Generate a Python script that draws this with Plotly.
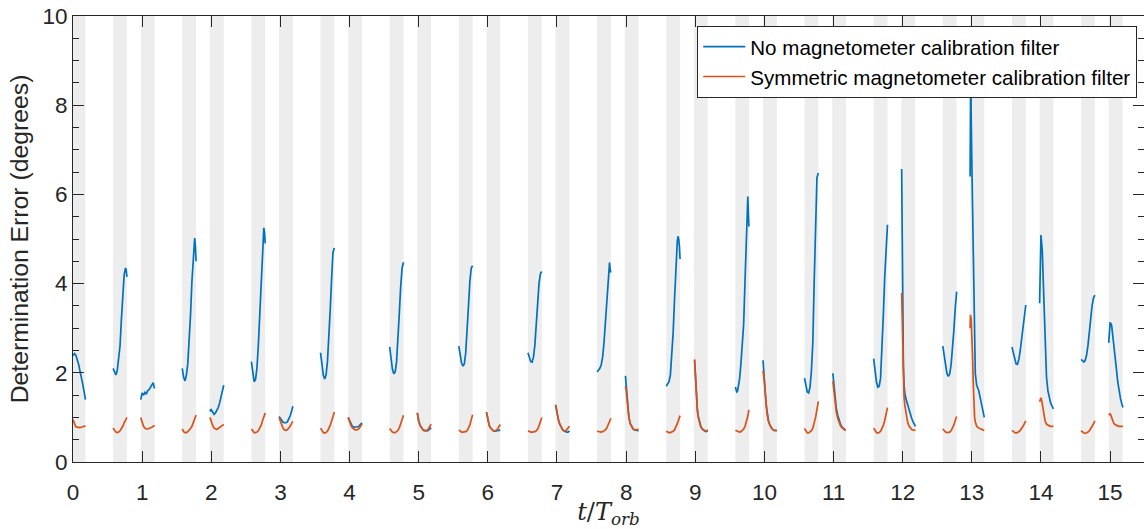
import plotly.graph_objects as go

# ---------------- eclipse (shaded) windows ----------------
shade_start = [-0.02, 0.58, 0.98, 1.58, 1.98, 2.58, 2.98, 3.58, 3.98, 4.58, 4.98, 5.58,
               5.98, 6.58, 6.98, 7.58, 7.98, 8.58, 8.98, 9.58, 9.98, 10.58, 10.98, 11.58,
               11.98, 12.58, 12.98, 13.58, 13.98, 14.58, 14.98]
shade_width = 0.20

# ---------------- data segments (t/T_orb, error in degrees) ----------------
# nocal_* : No magnetometer calibration filter ; sym_* : Symmetric magnetometer calibration filter
t_a0 = [0.00, 0.02, 0.04, 0.06, 0.08, 0.10, 0.12, 0.14, 0.16, 0.18]
nocal_a0 = [2.38, 2.43, 2.40, 2.32, 2.20, 2.05, 1.92, 1.75, 1.58, 1.40]
sym_a0 = [0.95, 0.86, 0.79, 0.78, 0.77, 0.77, 0.78, 0.79, 0.80, 0.81]

t_b0 = [0.58, 0.60, 0.62, 0.64, 0.66, 0.68, 0.70, 0.72, 0.74, 0.76, 0.77, 0.78]
nocal_b0 = [2.10, 2.00, 1.95, 2.05, 2.30, 2.60, 3.20, 3.85, 4.20, 4.35, 4.30, 4.15]
sym_b0 = [0.76, 0.70, 0.67, 0.66, 0.67, 0.70, 0.74, 0.80, 0.88, 0.96, 0.98, 1.00]

t_a1 = [0.98, 0.99, 1.00, 1.02, 1.04, 1.06, 1.08, 1.10, 1.12, 1.14, 1.16, 1.17, 1.18]
nocal_a1 = [1.40, 1.48, 1.55, 1.50, 1.56, 1.52, 1.60, 1.62, 1.68, 1.75, 1.78, 1.70, 1.65]
sym_a1 = [1.00, 0.95, 0.88, 0.80, 0.76, 0.74, 0.74, 0.75, 0.76, 0.78, 0.80, 0.81, 0.82]

t_b1 = [1.58, 1.60, 1.62, 1.64, 1.66, 1.68, 1.70, 1.72, 1.74, 1.75, 1.76, 1.77, 1.78]
nocal_b1 = [2.10, 1.90, 1.82, 1.95, 2.20, 2.65, 3.30, 4.05, 4.70, 4.95, 5.02, 4.85, 4.50]
sym_b1 = [0.74, 0.68, 0.66, 0.66, 0.68, 0.71, 0.75, 0.80, 0.88, 0.92, 0.97, 1.01, 1.05]

t_a2 = [1.98, 1.99, 2.00, 2.02, 2.04, 2.06, 2.08, 2.10, 2.12, 2.14, 2.16, 2.18]
nocal_a2 = [1.18, 1.15, 1.17, 1.12, 1.07, 1.10, 1.15, 1.22, 1.32, 1.45, 1.58, 1.72]
sym_a2 = [1.00, 0.95, 0.90, 0.82, 0.76, 0.74, 0.73, 0.75, 0.78, 0.80, 0.82, 0.84]

t_b2 = [2.58, 2.60, 2.62, 2.64, 2.66, 2.68, 2.70, 2.72, 2.74, 2.75, 2.76, 2.77, 2.78]
nocal_b2 = [2.25, 1.95, 1.80, 1.85, 2.10, 2.60, 3.25, 3.95, 4.65, 5.00, 5.25, 5.15, 4.90]
sym_b2 = [0.74, 0.69, 0.66, 0.66, 0.67, 0.70, 0.75, 0.82, 0.92, 0.97, 1.03, 1.07, 1.10]

t_a3 = [2.98, 3.00, 3.02, 3.04, 3.06, 3.08, 3.10, 3.12, 3.14, 3.16, 3.18]
nocal_a3 = [1.02, 0.97, 0.92, 0.89, 0.88, 0.88, 0.90, 0.95, 1.03, 1.13, 1.25]
sym_a3 = [1.00, 0.90, 0.80, 0.75, 0.72, 0.71, 0.72, 0.75, 0.80, 0.86, 0.91]

t_b3 = [3.58, 3.60, 3.62, 3.64, 3.66, 3.68, 3.70, 3.72, 3.74, 3.76, 3.78]
nocal_b3 = [2.45, 2.15, 1.95, 1.86, 1.95, 2.25, 2.75, 3.40, 4.10, 4.70, 4.80]
sym_b3 = [0.76, 0.70, 0.66, 0.65, 0.66, 0.69, 0.74, 0.82, 0.92, 1.03, 1.12]

t_a4 = [3.98, 4.00, 4.02, 4.04, 4.06, 4.08, 4.10, 4.12, 4.14, 4.16, 4.18]
nocal_a4 = [1.00, 0.92, 0.85, 0.80, 0.78, 0.78, 0.78, 0.79, 0.81, 0.84, 0.88]
sym_a4 = [1.00, 0.90, 0.82, 0.77, 0.74, 0.72, 0.72, 0.73, 0.76, 0.80, 0.85]

t_b4 = [4.58, 4.60, 4.62, 4.64, 4.66, 4.68, 4.70, 4.72, 4.74, 4.76, 4.78]
nocal_b4 = [2.58, 2.30, 2.08, 1.98, 2.02, 2.25, 2.70, 3.35, 3.95, 4.35, 4.48]
sym_b4 = [0.75, 0.70, 0.67, 0.66, 0.66, 0.68, 0.71, 0.77, 0.85, 0.95, 1.05]

t_a5 = [4.98, 4.99, 5.00, 5.02, 5.04, 5.06, 5.08, 5.10, 5.12, 5.14, 5.16, 5.18]
nocal_a5 = [1.10, 1.00, 0.92, 0.82, 0.76, 0.73, 0.71, 0.70, 0.70, 0.71, 0.73, 0.77]
sym_a5 = [1.10, 1.00, 0.92, 0.82, 0.76, 0.72, 0.70, 0.70, 0.71, 0.74, 0.79, 0.85]

t_b5 = [5.58, 5.60, 5.62, 5.64, 5.66, 5.68, 5.70, 5.72, 5.74, 5.76, 5.78]
nocal_b5 = [2.60, 2.40, 2.22, 2.15, 2.20, 2.45, 2.90, 3.50, 4.05, 4.35, 4.40]
sym_b5 = [0.72, 0.69, 0.67, 0.67, 0.67, 0.68, 0.70, 0.75, 0.83, 0.95, 1.06]

t_a6 = [5.98, 5.99, 6.00, 6.02, 6.04, 6.06, 6.08, 6.10, 6.12, 6.14, 6.16, 6.18]
nocal_a6 = [1.12, 1.02, 0.93, 0.82, 0.76, 0.72, 0.70, 0.69, 0.69, 0.70, 0.71, 0.72]
sym_a6 = [1.12, 1.02, 0.93, 0.82, 0.76, 0.72, 0.70, 0.70, 0.71, 0.74, 0.79, 0.84]

t_b6 = [6.58, 6.60, 6.62, 6.64, 6.66, 6.68, 6.70, 6.72, 6.74, 6.76, 6.78]
nocal_b6 = [2.45, 2.33, 2.25, 2.24, 2.35, 2.62, 3.05, 3.60, 4.00, 4.22, 4.27]
sym_b6 = [0.70, 0.68, 0.67, 0.67, 0.67, 0.68, 0.70, 0.74, 0.81, 0.90, 1.00]

t_a7 = [6.98, 6.99, 7.00, 7.02, 7.04, 7.06, 7.08, 7.10, 7.12, 7.14, 7.16, 7.18]
nocal_a7 = [1.28, 1.20, 1.08, 0.95, 0.85, 0.78, 0.73, 0.70, 0.68, 0.67, 0.67, 0.70]
sym_a7 = [1.28, 1.20, 1.08, 0.95, 0.85, 0.78, 0.73, 0.70, 0.70, 0.72, 0.76, 0.80]

t_b7 = [7.58, 7.60, 7.62, 7.64, 7.66, 7.68, 7.70, 7.72, 7.74, 7.75, 7.76, 7.77, 7.78]
nocal_b7 = [2.02, 2.06, 2.10, 2.18, 2.35, 2.68, 3.15, 3.70, 4.25, 4.42, 4.47, 4.30, 4.25]
sym_b7 = [0.69, 0.68, 0.67, 0.67, 0.68, 0.70, 0.72, 0.76, 0.83, 0.87, 0.92, 0.95, 0.98]

t_a8 = [7.99, 8.00, 8.01, 8.02, 8.03, 8.04, 8.06, 8.08, 8.10, 8.12, 8.14, 8.16, 8.18]
nocal_a8 = [1.93, 1.75, 1.50, 1.28, 1.12, 1.00, 0.86, 0.78, 0.74, 0.72, 0.71, 0.70, 0.70]
sym_a8 = [1.70, 1.62, 1.45, 1.25, 1.10, 1.00, 0.86, 0.78, 0.74, 0.72, 0.72, 0.72, 0.73]

t_b8 = [8.58, 8.60, 8.62, 8.64, 8.66, 8.68, 8.70, 8.72, 8.74, 8.75, 8.76, 8.77, 8.78]
nocal_b8 = [1.70, 1.74, 1.80, 1.95, 2.35, 2.90, 3.65, 4.40, 4.95, 5.06, 5.00, 4.85, 4.55]
sym_b8 = [0.69, 0.67, 0.66, 0.66, 0.67, 0.69, 0.72, 0.78, 0.86, 0.90, 0.95, 1.00, 1.04]

t_a9 = [8.99, 9.00, 9.01, 9.02, 9.03, 9.04, 9.06, 9.08, 9.10, 9.12, 9.14, 9.16, 9.18]
nocal_a9 = [2.28, 1.95, 1.62, 1.36, 1.18, 1.04, 0.89, 0.80, 0.74, 0.71, 0.69, 0.68, 0.70]
sym_a9 = [2.30, 1.95, 1.60, 1.35, 1.17, 1.03, 0.88, 0.79, 0.74, 0.71, 0.70, 0.70, 0.72]

t_b9 = [9.58, 9.59, 9.60, 9.61, 9.62, 9.64, 9.66, 9.68, 9.70, 9.72, 9.74, 9.75, 9.76, 9.775]
nocal_b9 = [1.68, 1.60, 1.57, 1.58, 1.65, 1.85, 2.20, 2.65, 3.10, 4.08, 5.30, 5.85, 5.95, 5.28]
sym_b9 = [0.71, 0.70, 0.69, 0.68, 0.67, 0.67, 0.68, 0.70, 0.74, 0.80, 0.90, 0.96, 1.03, 1.17]

t_a10 = [9.98, 9.99, 10.00, 10.01, 10.02, 10.03, 10.04, 10.06, 10.08, 10.10, 10.12, 10.14, 10.16, 10.18]
nocal_a10 = [2.28, 2.00, 1.80, 1.60, 1.40, 1.22, 1.08, 0.92, 0.82, 0.76, 0.73, 0.71, 0.70, 0.70]
sym_a10 = [2.05, 1.95, 1.78, 1.58, 1.38, 1.20, 1.06, 0.90, 0.81, 0.76, 0.73, 0.71, 0.71, 0.71]

t_b10 = [10.58, 10.60, 10.62, 10.64, 10.66, 10.68, 10.70, 10.72, 10.74, 10.76, 10.78]
nocal_b10 = [1.88, 1.68, 1.57, 1.55, 1.68, 2.05, 2.67, 4.05, 5.60, 6.38, 6.48]
sym_b10 = [0.75, 0.68, 0.65, 0.65, 0.67, 0.70, 0.76, 0.86, 1.00, 1.18, 1.36]

t_a11 = [10.99, 11.00, 11.01, 11.02, 11.03, 11.04, 11.06, 11.08, 11.10, 11.12, 11.14, 11.16, 11.18]
nocal_a11 = [1.99, 1.80, 1.60, 1.45, 1.32, 1.20, 1.05, 0.93, 0.85, 0.79, 0.75, 0.73, 0.72]
sym_a11 = [1.81, 1.65, 1.48, 1.35, 1.22, 1.12, 0.98, 0.88, 0.81, 0.77, 0.74, 0.72, 0.72]

t_b11 = [11.58, 11.60, 11.62, 11.64, 11.66, 11.68, 11.70, 11.72, 11.74, 11.76, 11.78]
nocal_b11 = [2.32, 2.05, 1.80, 1.68, 1.70, 1.88, 2.45, 3.30, 4.15, 4.90, 5.32]
sym_b11 = [0.76, 0.69, 0.66, 0.65, 0.66, 0.69, 0.74, 0.82, 0.93, 1.08, 1.22]

t_a12 = [11.985, 11.99, 11.995, 12.00, 12.005, 12.01, 12.02, 12.03, 12.05, 12.07, 12.09, 12.11,
         12.13, 12.15, 12.17, 12.185]
nocal_a12 = [6.57, 5.60, 4.50, 3.40, 2.60, 2.10, 1.72, 1.55, 1.40, 1.28, 1.17, 1.07,
             0.98, 0.90, 0.84, 0.80]
sym_a12 = [3.79, 3.40, 2.80, 2.20, 1.95, 1.75, 1.45, 1.28, 1.05, 0.90, 0.81, 0.76,
           0.73, 0.72, 0.71, 0.71]

t_b12 = [12.58, 12.60, 12.62, 12.64, 12.66, 12.68, 12.70, 12.72, 12.74, 12.76, 12.78]
nocal_b12 = [2.60, 2.40, 2.15, 1.98, 1.92, 1.98, 2.18, 2.50, 2.95, 3.45, 3.82]
sym_b12 = [0.74, 0.70, 0.67, 0.66, 0.66, 0.67, 0.70, 0.75, 0.83, 0.93, 1.02]

t_a13 = [12.975, 12.98, 12.985, 12.99, 13.00, 13.01, 13.02, 13.03, 13.04, 13.05, 13.07, 13.09,
         13.10, 13.12, 13.14, 13.16, 13.18]
nocal_a13 = [6.40, 8.00, 9.20, 7.80, 6.70, 5.50, 4.30, 3.20, 2.35, 1.98, 1.72, 1.64,
             1.60, 1.45, 1.30, 1.15, 1.00]
sym_a13 = [3.00, 3.30, 3.25, 3.20, 2.90, 2.40, 1.80, 1.30, 1.00, 0.90, 0.80, 0.77,
           0.76, 0.74, 0.73, 0.72, 0.71]

t_b13 = [13.58, 13.60, 13.62, 13.64, 13.66, 13.68, 13.70, 13.72, 13.74, 13.76, 13.78]
nocal_b13 = [2.58, 2.45, 2.30, 2.20, 2.19, 2.30, 2.50, 2.78, 3.10, 3.38, 3.52]
sym_b13 = [0.71, 0.68, 0.66, 0.65, 0.66, 0.68, 0.71, 0.75, 0.80, 0.86, 0.92]

t_a14 = [13.98, 13.99, 14.00, 14.01, 14.02, 14.03, 14.04, 14.05, 14.06, 14.08, 14.10, 14.12,
         14.14, 14.16, 14.18]
nocal_a14 = [3.56, 4.70, 5.09, 4.90, 4.70, 4.20, 3.65, 3.05, 2.55, 1.90, 1.60, 1.42,
             1.32, 1.25, 1.19]
sym_a14 = [1.35, 1.42, 1.44, 1.38, 1.30, 1.20, 1.08, 1.00, 0.92, 0.85, 0.82, 0.81,
           0.80, 0.80, 0.80]

t_b14 = [14.58, 14.60, 14.62, 14.64, 14.66, 14.68, 14.70, 14.72, 14.74, 14.76, 14.78]
nocal_b14 = [2.30, 2.26, 2.24, 2.28, 2.40, 2.62, 2.92, 3.25, 3.52, 3.68, 3.74]
sym_b14 = [0.70, 0.67, 0.65, 0.64, 0.65, 0.67, 0.70, 0.74, 0.80, 0.86, 0.92]

t_a15 = [14.98, 14.99, 15.00, 15.01, 15.02, 15.03, 15.05, 15.07, 15.09, 15.11, 15.13, 15.15,
         15.17, 15.185]
nocal_a15 = [2.67, 2.95, 3.13, 3.10, 3.08, 2.95, 2.70, 2.42, 2.10, 1.80, 1.58, 1.42,
             1.30, 1.22]
sym_a15 = [1.05, 1.08, 1.08, 1.05, 1.00, 0.95, 0.88, 0.84, 0.82, 0.81, 0.80, 0.80,
           0.80, 0.80]

x_ticks = list(range(0, 16))
y_ticks = [0, 2, 4, 6, 8, 10]

series_names = ["No magnetometer calibration filter",
                "Symmetric magnetometer calibration filter"]
series_colors = ["#0072BD", "#D95319"]

segments = [
    (t_a0, nocal_a0, sym_a0), (t_b0, nocal_b0, sym_b0),
    (t_a1, nocal_a1, sym_a1), (t_b1, nocal_b1, sym_b1),
    (t_a2, nocal_a2, sym_a2), (t_b2, nocal_b2, sym_b2),
    (t_a3, nocal_a3, sym_a3), (t_b3, nocal_b3, sym_b3),
    (t_a4, nocal_a4, sym_a4), (t_b4, nocal_b4, sym_b4),
    (t_a5, nocal_a5, sym_a5), (t_b5, nocal_b5, sym_b5),
    (t_a6, nocal_a6, sym_a6), (t_b6, nocal_b6, sym_b6),
    (t_a7, nocal_a7, sym_a7), (t_b7, nocal_b7, sym_b7),
    (t_a8, nocal_a8, sym_a8), (t_b8, nocal_b8, sym_b8),
    (t_a9, nocal_a9, sym_a9), (t_b9, nocal_b9, sym_b9),
    (t_a10, nocal_a10, sym_a10), (t_b10, nocal_b10, sym_b10),
    (t_a11, nocal_a11, sym_a11), (t_b11, nocal_b11, sym_b11),
    (t_a12, nocal_a12, sym_a12), (t_b12, nocal_b12, sym_b12),
    (t_a13, nocal_a13, sym_a13), (t_b13, nocal_b13, sym_b13),
    (t_a14, nocal_a14, sym_a14), (t_b14, nocal_b14, sym_b14),
    (t_a15, nocal_a15, sym_a15),
]


def join(idx):
    xs, ys = [], []
    for seg in segments:
        xs += list(seg[0]) + [None]
        ys += list(seg[idx]) + [None]
    return xs, ys


fig = go.Figure()
for k in range(2):
    xs, ys = join(k + 1)
    fig.add_trace(go.Scatter(x=xs, y=ys, mode="lines", name=series_names[k],
                             line=dict(color=series_colors[k], width=1.7),
                             connectgaps=False))

for s in shade_start:
    fig.add_shape(type="rect", xref="x", yref="paper", x0=max(s, 0), x1=s + shade_width,
                  y0=0, y1=1, fillcolor="#EDEDED", line=dict(width=0), layer="below")

axis_col = "#262626"
font_main = "Liberation Sans, Arial, Helvetica, sans-serif"

fig.update_layout(
    width=1144, height=529,
    margin=dict(l=73, r=0, t=16, b=67),
    paper_bgcolor="white", plot_bgcolor="white",
    font=dict(family=font_main, size=22, color=axis_col),
    showlegend=True,
    legend=dict(x=0.9937, xanchor="right", y=0.978, yanchor="top",
                bgcolor="white", bordercolor=axis_col, borderwidth=1,
                font=dict(family=font_main, size=20.6, color="black"),
                itemwidth=42, tracegroupgap=0),
    xaxis=dict(range=[0, 15.49], tickvals=x_ticks, ticks="inside", ticklen=11,
               tickcolor=axis_col, showline=True, linecolor=axis_col, linewidth=1,
               mirror="ticks", showgrid=False, zeroline=False,
               ticklabelstandoff=10,
               tickfont=dict(size=22.5, color=axis_col),
               title=dict(text="<i>t</i>/<i>T</i><sub><i>orb</i></sub>",
                          font=dict(family="DejaVu Serif, Liberation Serif, serif", size=24,
                                    color=axis_col),
                          standoff=3)),
    yaxis=dict(range=[0, 10], tickvals=y_ticks, ticks="inside", ticklen=11,
               tickcolor=axis_col, showline=True, linecolor=axis_col, linewidth=1,
               mirror="ticks", showgrid=False, zeroline=False,
               minor=dict(dtick=0.5, ticks="inside", ticklen=6, tickcolor=axis_col),
               tickfont=dict(size=22.5, color=axis_col),
               title=dict(text="Determination Error (degrees)",
                          font=dict(size=24.75, color=axis_col), standoff=6)),
)

fig.write_html("out.html")
